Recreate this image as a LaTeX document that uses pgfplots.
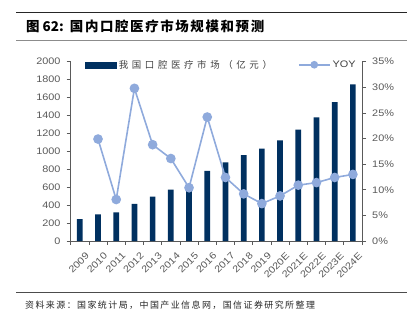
\documentclass[border=0pt]{standalone}
\usepackage{fontspec}
\setmainfont{Liberation Sans}[FakeStretch=1.15]
\newfontfamily\cjk{Noto Sans CJK SC}
\usepackage{pgfplots}
\pgfplotsset{compat=1.18}
\definecolor{navy}{RGB}{0,48,96}
\definecolor{yoyc}{RGB}{143,170,220}
\definecolor{axgray}{RGB}{90,90,90}
\definecolor{lblgray}{RGB}{89,89,89}
\pgfplotstableread{
x val
0 245
1 297
2 319
3 415
4 496
5 574
6 632
7 781
8 878
9 959
10 1030
11 1122
12 1241
13 1378
14 1548
15 1748
}\bars
\pgfplotstableread{
x yoy
1 19.9
2 8.1
3 29.8
4 18.8
5 16.1
6 10.4
7 24.2
8 12.4
9 9.2
10 7.3
11 8.8
12 10.9
13 11.4
14 12.4
15 13.0
}\yoy
\begin{document}
\begin{tikzpicture}[x=1bp,y=1bp]
\path[use as bounding box] (0,0) rectangle (412,321);
\draw[black!85, line width=1bp] (16,308.7) -- (407,308.7);
\draw[black!45, line width=0.8bp] (16,280.3) -- (407,280.3);
\draw[black!70, line width=0.8bp] (16,29) -- (407,29);
\node[anchor=west, inner sep=0pt, font=\fontsize{13.5}{15}\selectfont\bfseries] at (26,294.3) {\cjk\bfseries 图\ 62:\ \ \addfontfeatures{LetterSpace=12}国内口腔医疗市场规模和预测};
\node[anchor=west, inner sep=0pt, font=\fontsize{9}{11}\selectfont, text=black!85] at (25,16) {\cjk\addfontfeatures{LetterSpace=16}资料来源：国家统计局，中国产业信息网，国信证券研究所整理};
\begin{axis}[
  at={(70.7bp,80bp)}, anchor=south west,
  scale only axis, width=291.3bp, height=179.3bp,
  xmin=-0.5, xmax=15.5, ymin=0, ymax=2000,
  axis y line*=left, axis x line*=bottom,
  axis line style={axgray, line width=0.6bp},
  ytick={0,200,...,2000},
  xtick={0,...,15},
  xticklabels={2009,2010,2011,2012,2013,2014,2015,2016,2017,2018,2019,2020E,2021E,2022E,2023E,2024E},
  minor xtick={-0.5,0.5,...,15.5},
  major x tick style={draw=none},
  tick align=outside, major tick length=4bp, minor tick length=4bp,
  tick style={axgray, line width=0.6bp},
  every tick label/.append style={text=lblgray, font=\fontsize{9.5}{11}\selectfont},
  xticklabel style={rotate=45, anchor=east, inner sep=0pt, xshift=-1bp, yshift=-12bp},
  yticklabel style={inner sep=0pt, xshift=-6bp},
  /pgf/number format/assume math mode=true,
  /pgf/number format/1000 sep={},
  clip=false,
]
\addplot[ybar, bar width=5.7bp, fill=navy, draw=none] table[x=x,y=val]{\bars};
\end{axis}
\begin{axis}[
  at={(70.7bp,80bp)}, anchor=south west,
  scale only axis, width=291.3bp, height=179.3bp,
  xmin=-0.5, xmax=15.5, ymin=0, ymax=35,
  axis y line*=right, axis x line=none,
  axis line style={axgray, line width=0.6bp},
  ytick={0,5,...,35},
  yticklabel={\pgfmathprintnumber{\tick}\%},
  tick align=outside, major tick length=4bp,
  tick style={axgray, line width=0.6bp},
  every tick label/.append style={text=lblgray, font=\fontsize{9.5}{11}\selectfont},
  yticklabel style={inner sep=0pt, xshift=6bp},
  /pgf/number format/assume math mode=true,
  clip=false,
  legend columns=2,
  legend style={draw=none, fill=none, at={(axis description cs:0.05,0.983)}, anchor=west,
    inner sep=0pt, font=\fontsize{9.5}{11}\selectfont, text=black!75,
    /tikz/every even column/.append style={column sep=24bp}},
  legend cell align=left,
]
\addlegendimage{legend image code/.code={\fill[navy] (0bp,-3bp) rectangle (31bp,3bp);}}
\addlegendentry{\cjk\addfontfeatures{LetterSpace=38}我国口腔医疗市场（亿元）}
\addplot[yoyc, line width=1.6bp, mark=*, mark size=4bp, mark options={fill=yoyc, draw=yoyc},
  legend image code/.code={\draw[yoyc, line width=1.6bp] (0bp,0bp) -- (31bp,0bp); \fill[yoyc] (15.5bp,0bp) circle (3bp);}]
  table[x=x,y=yoy]{\yoy};
\addlegendentry{YOY}
\end{axis}
\end{tikzpicture}
\end{document}
